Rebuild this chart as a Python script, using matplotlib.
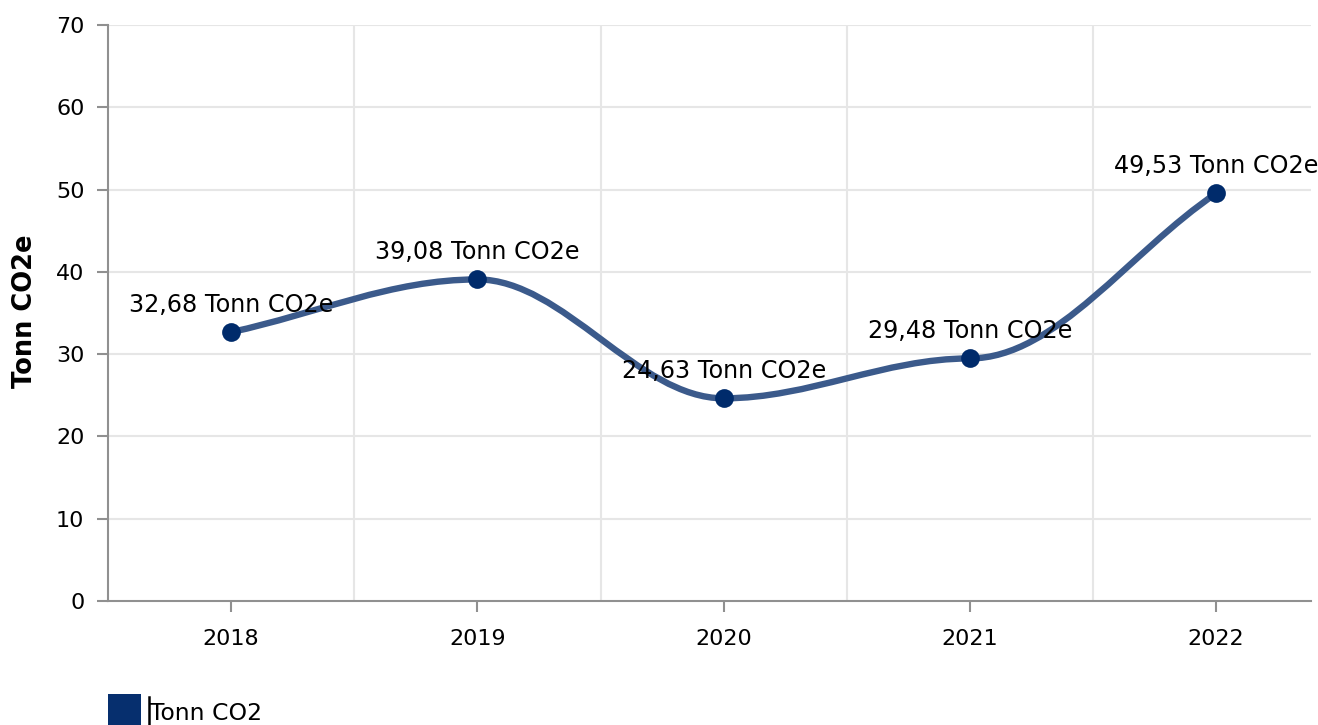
import matplotlib
matplotlib.use("Agg")
import matplotlib.pyplot as plt
import numpy as np
from matplotlib.path import Path
from matplotlib.patches import PathPatch, Rectangle
from matplotlib.lines import Line2D

categories = ["2018", "2019", "2020", "2021", "2022"]
values = [32.68, 39.08, 24.63, 29.48, 49.53]
labels = ["32,68 Tonn CO2e", "39,08 Tonn CO2e", "24,63 Tonn CO2e", "29,48 Tonn CO2e", "49,53 Tonn CO2e"]
y_ticks = [0, 10, 20, 30, 40, 50, 60, 70]
y_title = "Tonn CO2e"
legend_label = "Tonn CO2"

W, H = 1318, 725
fig = plt.figure(figsize=(W / 100, H / 100), dpi=100)
left_px, right_px, top_px, bot_px = 108, 1311, 25, 601
cat_px = 246.25
ax = fig.add_axes([left_px / W, (H - bot_px) / H, (right_px - left_px) / W, (bot_px - top_px) / H])

x = np.arange(len(values), dtype=float)
y = np.array(values, dtype=float)


def smooth_path(xs, ys, k=0.35):
    """Bezier path: flat tangents at inner points, chord tangents at the ends."""
    n = len(xs)
    verts = [(xs[0], ys[0])]
    codes = [Path.MOVETO]
    for i in range(1, n):
        x0, y0, x1, y1 = xs[i - 1], ys[i - 1], xs[i], ys[i]
        dx = x1 - x0
        if i - 1 == 0:
            c1 = (x0 + k * dx, y0 + k * (y1 - y0))
        else:
            c1 = (x0 + k * dx, y0)
        if i == n - 1:
            c2 = (x1 - k * dx, y1 - k * (y1 - y0))
        else:
            c2 = (x1 - k * dx, y1)
        verts += [c1, c2, (x1, y1)]
        codes += [Path.CURVE4] * 3
    return Path(verts, codes)


ax.set_xlim(-0.5, -0.5 + (right_px - left_px) / cat_px)
ax.set_ylim(0, 70)

line_color = "#3b5a8b"
marker_color = "#002b6b"
grid_color = "#e6e6e6"
axis_color = "#909090"

for yt in y_ticks[1:]:
    ax.axhline(yt, color=grid_color, lw=1.5, zorder=0)
for b in np.arange(0.5, len(values) - 0.5, 1.0):
    ax.axvline(b, color=grid_color, lw=1.5, zorder=0)

patch = PathPatch(smooth_path(x, y), facecolor="none", edgecolor=line_color, lw=4.6,
                  capstyle="round", joinstyle="round", zorder=2)
ax.add_patch(patch)
ax.plot(x, y, "o", color=marker_color, ms=13.5, zorder=3, mec="none", clip_on=False)

for xi, yi, lab in zip(x, y, labels):
    ax.annotate(lab, (xi, yi), xytext=(0, 14.5), textcoords="offset points",
                ha="center", va="baseline", fontsize=17.2, color="black", zorder=4,
                annotation_clip=False)

ax.set_xticks(x)
ax.set_xticklabels(categories, fontsize=16)
ax.set_yticks(y_ticks)
ax.set_yticklabels([str(v) for v in y_ticks], fontsize=16)
ax.tick_params(axis="x", length=8, width=1.5, color=axis_color, pad=12)
ax.tick_params(axis="y", length=8, width=1.5, color=axis_color, pad=9)

for s in ["top", "right"]:
    ax.spines[s].set_visible(False)
for s in ["left", "bottom"]:
    ax.spines[s].set_color(axis_color)
    ax.spines[s].set_linewidth(1.5)

fig.text(25 / W, (H - 311) / H, y_title, rotation=90, fontsize=18.5, fontweight="bold",
         ha="center", va="center")

# legend
fig.patches.append(Rectangle((108 / W, 0), 33 / W, 31 / H, transform=fig.transFigure,
                             facecolor="#062f6e", edgecolor="none"))
fig.lines.append(Line2D([149 / W, 149 / W], [0 / H, 28 / H], transform=fig.transFigure,
                        color="black", lw=1.8))
fig.text(150 / W, 12 / H, legend_label, fontsize=16.9, ha="left", va="center")

fig.savefig("out.png", dpi=100)
